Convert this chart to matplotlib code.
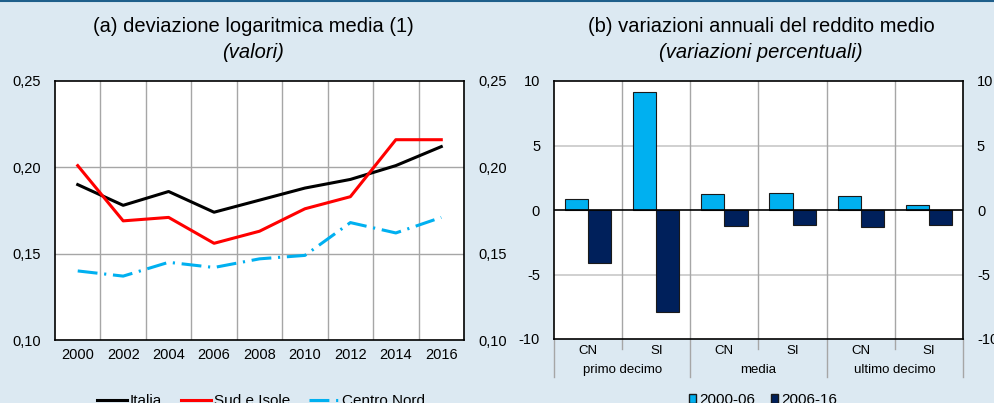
import numpy as np
import matplotlib.pyplot as plt
from matplotlib.lines import Line2D
from matplotlib.patches import Patch

plt.rcParams['font.family'] = ['Liberation Sans', 'DejaVu Sans']

# --- dati pannello (a) ---
anni = ["2000", "2002", "2004", "2006", "2008", "2010", "2012", "2014", "2016"]
italia = [0.190, 0.178, 0.186, 0.174, 0.181, 0.188, 0.193, 0.201, 0.212]
sud_isole = [0.201, 0.169, 0.171, 0.156, 0.163, 0.176, 0.183, 0.216, 0.216]
centro_nord = [0.140, 0.137, 0.145, 0.142, 0.147, 0.149, 0.168, 0.162, 0.171]

# --- dati pannello (b) ---
aree = ["CN", "SI", "CN", "SI", "CN", "SI"]
gruppi = ["primo decimo", "media", "ultimo decimo"]
var_2000_06 = [0.85, 9.15, 1.27, 1.30, 1.09, 0.36]
var_2006_16 = [-4.1, -7.9, -1.27, -1.14, -1.32, -1.17]

sfondo = "#dce9f2"
azzurro = "#00b0f0"
blu = "#00205b"
H = 403

fig = plt.figure(figsize=(9.95, 4.03), dpi=100, facecolor=sfondo)
fig.add_artist(Line2D([0, 1], [0.997, 0.997], color="#1f5f8b", lw=1.5))

# titoli
fig.text(253/995, 1 - 27/H, "(a) deviazione logaritmica media (1)", ha="center", va="center", fontsize=14.5)
fig.text(253/995, 1 - 52/H, "(valori)", ha="center", va="center", fontsize=14.5, style="italic")
fig.text(761/995, 1 - 27/H, "(b) variazioni annuali del reddito medio", ha="center", va="center", fontsize=14.5)
fig.text(761/995, 1 - 52/H, "(variazioni percentuali)", ha="center", va="center", fontsize=14.5, style="italic")

# ---------- (a) ----------
ax1 = fig.add_axes([55/995, 63/H, 409/995, 259/H])
x = np.arange(len(anni))
l1, = ax1.plot(x, italia, color="black", lw=2.2, label="Italia")
l2, = ax1.plot(x, sud_isole, color="red", lw=2.2, label="Sud e Isole")
l3, = ax1.plot(x, centro_nord, color=azzurro, lw=2.2, dashes=(6.5, 2.2, 0.7, 2.2), label="Centro Nord")
ax1.set_xlim(-0.5, len(anni) - 0.5)
ax1.set_ylim(0.10, 0.25)
ax1.set_xticks(x)
ax1.set_xticklabels(anni, fontsize=10.5)
ax1.set_yticks([0.10, 0.15, 0.20, 0.25])
ax1.set_yticklabels(["0,10", "0,15", "0,20", "0,25"], fontsize=10.5)
ax1.tick_params(axis="x", length=0, pad=6)
ax1.tick_params(axis="y", length=0, pad=10, labelright=True)
for xv in np.arange(0.5, len(anni) - 0.5):
    ax1.axvline(xv, color="#a6a6a6", lw=1, zorder=0)
for yv in [0.15, 0.20]:
    ax1.axhline(yv, color="#a6a6a6", lw=1, zorder=0)
for s in ax1.spines.values():
    s.set_linewidth(1.2)
fig.legend(handles=[l1, l2, l3], loc="center", bbox_to_anchor=(261/995, 2/H),
           ncol=3, frameon=False, fontsize=11, handlelength=2.0, columnspacing=1.2,
           handletextpad=0.2)

# ---------- (b) ----------
ax2 = fig.add_axes([554/995, 64/H, 409/995, 258/H])
xb = np.arange(len(aree))
w = 0.34
ax2.bar(xb - w/2, var_2000_06, w, color=azzurro, edgecolor="#1a1a1a", lw=0.8, zorder=3)
ax2.bar(xb + w/2, var_2006_16, w, color=blu, edgecolor="#1a1a1a", lw=0.8, zorder=3)
ax2.set_xlim(-0.5, len(aree) - 0.5)
ax2.set_ylim(-10, 10)
ax2.set_yticks([-10, -5, 0, 5, 10])
ax2.set_yticklabels(["-10", "-5", "0", "5", "10"], fontsize=10.5)
ax2.set_xticks([])
ax2.tick_params(length=0, pad=10, labelright=True)
ax2.axhline(0, color="black", lw=1.2, zorder=4)
for yv in [-5, 5]:
    ax2.axhline(yv, color="#c8c8c8", lw=1.2, zorder=0)
for xv in np.arange(0.5, len(aree) - 0.5):
    ax2.axvline(xv, color="#a6a6a6", lw=1, zorder=0)
for s in ax2.spines.values():
    s.set_linewidth(1.2)
trans = ax2.get_xaxis_transform()
for i, a in enumerate(aree):
    ax2.text(i, -12/258, a, transform=trans, ha="center", va="center", fontsize=9.5)
for g, nome in enumerate(gruppi):
    ax2.text(2*g + 0.5, -31/258, nome, transform=trans, ha="center", va="center", fontsize=9.5)
for xv in np.arange(-0.5, len(aree)):
    lungo = (xv + 0.5) % 2 == 0
    yb = -38/258 if lungo else -10/258
    ax2.plot([xv, xv], [0, yb], transform=trans, color="#a6a6a6", lw=1, clip_on=False)
fig.legend(handles=[Patch(facecolor=azzurro, edgecolor="#1a1a1a", label="2000-06"),
                    Patch(facecolor=blu, edgecolor="#1a1a1a", label="2006-16")],
           loc="center", bbox_to_anchor=(763/995, 3/H), ncol=2, frameon=False,
           fontsize=11, handlelength=0.5, handleheight=0.5, handletextpad=0.2,
           columnspacing=1.0)

fig.savefig("out.png", dpi=100, facecolor=sfondo)
